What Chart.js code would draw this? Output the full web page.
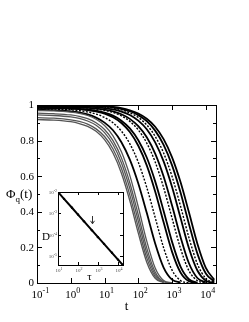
<!DOCTYPE html>
<html><head><meta charset="utf-8">
<script src="https://cdn.jsdelivr.net/npm/chart.js@4/dist/chart.umd.min.js"></script>
<style>
html,body{margin:0;padding:0;background:#fff;}
#wrap{position:relative;width:249px;height:322px;overflow:hidden;}
canvas{position:absolute;}
#main{left:0;top:0;}
#inset{left:38px;top:186px;}
</style>
</head><body>
<div id="wrap"><canvas id="main" width="249" height="322"></canvas><canvas id="inset" width="92" height="96"></canvas></div>
<script>
// ---------- data ----------
const times = [0.1, 0.316, 1, 1.78, 3.16, 5.62, 10, 17.8, 31.6, 56.2, 100, 178, 316, 562, 1000, 1780, 3160, 5620, 10000, 17800];

// fast (large q) curves, lower plateau
const phiC1 = [0.918,0.915,0.906,0.896,0.880,0.852,0.805,0.730,0.617,0.462,0.280,0.117,0.026,0.002,null,null,null,null,null,null];
const phiC2 = [0.929,0.926,0.917,0.908,0.893,0.866,0.823,0.753,0.645,0.494,0.312,0.141,0.036,0.003,null,null,null,null,null,null];
const phiC3 = [0.944,0.941,0.933,0.925,0.910,0.886,0.845,0.778,0.676,0.530,0.348,0.168,0.048,0.005,null,null,null,null,null,null];
const phiC4 = [0.954,0.951,0.944,0.936,0.923,0.900,0.862,0.800,0.703,0.562,0.382,0.196,0.062,0.008,0.000,null,null,null,null,null];
const phiC5 = [0.969,0.967,0.960,0.953,0.941,0.920,0.885,0.827,0.737,0.603,0.427,0.235,0.084,0.014,0.001,null,null,null,null,null];
// slower curves
const phiR1 = [0.973,0.971,0.964,0.958,0.947,0.929,0.901,0.858,0.791,0.693,0.559,0.394,0.222,0.087,0.019,0.002,null,null,null,null];
const phiR2 = [0.979,0.977,0.973,0.968,0.961,0.949,0.930,0.900,0.853,0.782,0.678,0.537,0.368,0.198,0.072,0.014,0.001,null,null,null];
const phiR3 = [0.984,0.983,0.980,0.977,0.972,0.964,0.952,0.931,0.899,0.848,0.771,0.661,0.514,0.341,0.175,0.059,0.010,0.001,null,null];
const phiR4 = [0.984,0.983,0.981,0.978,0.974,0.968,0.957,0.940,0.912,0.869,0.802,0.705,0.571,0.405,0.231,0.092,0.021,0.002,null,null];
const phiR5 = [0.990,0.989,0.987,0.985,0.983,0.978,0.970,0.958,0.939,0.908,0.860,0.786,0.680,0.536,0.364,0.194,0.069,0.013,0.001,null];
const phiR6 = [0.990,0.989,0.988,0.986,0.984,0.980,0.974,0.964,0.948,0.922,0.881,0.819,0.727,0.598,0.435,0.259,0.111,0.028,0.003,null];
const phiR7 = [0.995,0.994,0.993,0.992,0.990,0.988,0.983,0.975,0.963,0.944,0.912,0.864,0.790,0.683,0.539,0.366,0.195,0.070,0.013,0.001];
const phiR8 = [1.000,0.999,0.999,0.998,0.996,0.994,0.990,0.983,0.973,0.956,0.930,0.888,0.824,0.730,0.598,0.432,0.255,0.107,0.026,0.003];
const phiR9 = [1.000,1.000,0.999,0.998,0.997,0.995,0.992,0.987,0.978,0.965,0.943,0.909,0.856,0.776,0.661,0.509,0.332,0.165,0.053,0.008];
const phiR10= [1.000,1.000,0.999,0.998,0.997,0.996,0.993,0.989,0.982,0.970,0.952,0.923,0.878,0.808,0.706,0.567,0.397,0.221,0.085,0.018];

const fastSeries = [phiC1, phiC2, phiC3, phiC4, phiC5];
const slowSeries = [phiR1, phiR2, phiR3, phiR4, phiR5, phiR6, phiR7, phiR8, phiR9, phiR10];

// main axis ticks
const xTickValues = [0.1, 1, 10, 100, 1000, 10000];
const xTickExponents = ['-1', '0', '1', '2', '3', '4'];
const yTickValues = [0, 0.2, 0.4, 0.6, 0.8, 1];
const yTickLabels = ['0', '0.2', '0.4', '0.6', '0.8', '1'];
const yMinorValues = [0.1, 0.3, 0.5, 0.7, 0.9];

// inset: D versus tau
const insetTau = [10, 20, 50, 100, 200, 500, 1000, 2000, 5000, 10000, 17000];
const insetD = [1.0e-2, 4.8e-3, 1.85e-3, 8.9e-4, 4.3e-4, 1.64e-4, 7.9e-5, 3.84e-5, 1.47e-5, 7.1e-6, 4.1e-6];
const insetXTicks = [10, 100, 1000, 10000];
const insetXExp = ['1', '2', '3', '4'];
const insetYTicks = [1e-2, 1e-3, 1e-4, 1e-5];
const insetYExp = ['-2', '-3', '-4', '-5'];
const arrowTau = 525, arrowFromD = 7.6e-4, arrowToD = 3.3e-4;

// ---------- helpers ----------
const SERIF = '"Liberation Serif","DejaVu Serif",serif';
function pow10(ctx, x, y, exp, bs, ss, up) {
  ctx.font = bs + 'px ' + SERIF;
  const w = ctx.measureText('10').width;
  ctx.textAlign = 'center'; ctx.textBaseline = 'alphabetic';
  ctx.fillText('10', x, y);
  ctx.font = ss + 'px ' + SERIF;
  ctx.textAlign = 'left';
  ctx.fillText(exp, x + w / 2, y - up);
}
function pow10Right(ctx, xr, y, exp, bs, ss, up) {
  ctx.font = ss + 'px ' + SERIF;
  const we = ctx.measureText(exp).width;
  ctx.textAlign = 'right'; ctx.textBaseline = 'alphabetic';
  ctx.fillText(exp, xr, y - up);
  ctx.font = bs + 'px ' + SERIF;
  ctx.fillText('10', xr - we, y);
}
function pts(vals, xs) { return xs.map((t, i) => ({x: t, y: vals[i]})); }

// ---------- main chart ----------
const datasets = [];
fastSeries.forEach((s) => datasets.push({
  data: pts(s, times), borderColor: '#555', borderWidth: 1.3, pointRadius: 0,
  cubicInterpolationMode: 'monotone', spanGaps: false
}));
slowSeries.forEach((s, i) => datasets.push({
  data: pts(s, times), borderColor: '#000', borderWidth: (i % 3 === 1) ? 1.4 : 1.8, pointRadius: 0,
  borderDash: (i % 3 === 1) ? [2, 1.5] : [],
  cubicInterpolationMode: 'monotone', spanGaps: false
}));

const mainAxes = {
  id: 'mainAxes',
  afterDraw(chart) {
    const ctx = chart.ctx, a = chart.chartArea, xs = chart.scales.x, ys = chart.scales.y;
    ctx.save();
    ctx.strokeStyle = '#000'; ctx.lineWidth = 1;
    ctx.strokeRect(Math.round(a.left) + 0.5, Math.round(a.top) + 0.5, Math.round(a.right - a.left), Math.round(a.bottom - a.top));
    ctx.beginPath();
    xTickValues.forEach(v => {
      const px = Math.round(xs.getPixelForValue(v)) + 0.5;
      ctx.moveTo(px, a.bottom); ctx.lineTo(px, a.bottom - 5);
      ctx.moveTo(px, a.top); ctx.lineTo(px, a.top + 5);
    });
    yTickValues.forEach(v => {
      const py = Math.round(ys.getPixelForValue(v)) + 0.5;
      ctx.moveTo(a.left, py); ctx.lineTo(a.left + 5, py);
      ctx.moveTo(a.right, py); ctx.lineTo(a.right - 5, py);
    });
    yMinorValues.forEach(v => {
      const py = Math.round(ys.getPixelForValue(v)) + 0.5;
      ctx.moveTo(a.left, py); ctx.lineTo(a.left + 3, py);
      ctx.moveTo(a.right, py); ctx.lineTo(a.right - 3, py);
    });
    ctx.stroke();
    ctx.fillStyle = '#000';
    // y tick labels
    ctx.font = '11px ' + SERIF; ctx.textAlign = 'right'; ctx.textBaseline = 'middle';
    yTickValues.forEach((v, i) => ctx.fillText(yTickLabels[i], a.left - 3, ys.getPixelForValue(v) + 0.5));
    // x tick labels
    xTickValues.forEach((v, i) => pow10(ctx, xs.getPixelForValue(v), a.bottom + 15, xTickExponents[i], 11, 8, 5));
    // axis titles
    ctx.textBaseline = 'alphabetic'; ctx.textAlign = 'center';
    ctx.font = '13px ' + SERIF;
    ctx.fillText('t', (a.left + a.right) / 2, a.bottom + 27);
    ctx.textAlign = 'left';
    ctx.font = '13px ' + SERIF;
    ctx.fillText('\u03A6', 6, 198);
    const wPhi = ctx.measureText('\u03A6').width;
    ctx.font = '9px ' + SERIF;
    ctx.fillText('q', 6 + wPhi, 202);
    const wq = ctx.measureText('q').width;
    ctx.font = '13px ' + SERIF;
    ctx.fillText('(t)', 6 + wPhi + wq, 198);
    ctx.restore();
  }
};

new Chart(document.getElementById('main'), {
  type: 'line',
  data: { datasets },
  options: {
    responsive: false, animation: false, devicePixelRatio: 1,
    layout: { padding: { left: 37, right: 33, top: 105, bottom: 39 } },
    scales: {
      x: { type: 'logarithmic', min: 0.1, max: 20000, display: false },
      y: { type: 'linear', min: 0, max: 1, display: false }
    },
    plugins: { legend: { display: false }, tooltip: { enabled: false } },
    elements: { point: { radius: 0 }, line: { tension: 0.4 } }
  },
  plugins: [mainAxes]
});

// ---------- inset chart ----------
const insetAxes = {
  id: 'insetAxes',
  afterDraw(chart) {
    const ctx = chart.ctx, a = chart.chartArea, xs = chart.scales.x, ys = chart.scales.y;
    ctx.save();
    ctx.strokeStyle = '#000'; ctx.lineWidth = 1;
    ctx.strokeRect(Math.round(a.left) + 0.5, Math.round(a.top) + 0.5, Math.round(a.right - a.left), Math.round(a.bottom - a.top));
    ctx.beginPath();
    insetXTicks.forEach(v => {
      const px = Math.round(xs.getPixelForValue(v)) + 0.5;
      ctx.moveTo(px, a.bottom); ctx.lineTo(px, a.bottom - 3);
      ctx.moveTo(px, a.top); ctx.lineTo(px, a.top + 3);
    });
    insetYTicks.forEach(v => {
      const py = Math.round(ys.getPixelForValue(v)) + 0.5;
      ctx.moveTo(a.left, py); ctx.lineTo(a.left + 3, py);
      ctx.moveTo(a.right, py); ctx.lineTo(a.right - 3, py);
    });
    ctx.stroke();
    // arrow
    const ax = Math.round(xs.getPixelForValue(arrowTau)) + 0.5;
    const ay0 = ys.getPixelForValue(arrowFromD), ay1 = ys.getPixelForValue(arrowToD);
    ctx.strokeStyle = '#333';
    ctx.beginPath();
    ctx.moveTo(ax, ay0); ctx.lineTo(ax, ay1);
    ctx.moveTo(ax - 2, ay1 - 3); ctx.lineTo(ax, ay1); ctx.lineTo(ax + 2, ay1 - 3);
    ctx.stroke();
    ctx.fillStyle = '#444';
    insetXTicks.forEach((v, i) => pow10(ctx, xs.getPixelForValue(v), a.bottom + 7, insetXExp[i], 5, 4, 2));
    insetYTicks.forEach((v, i) => pow10Right(ctx, a.left - 1, ys.getPixelForValue(v) + 2, insetYExp[i], 5, 4, 2));
    ctx.fillStyle = '#000';
    ctx.font = '11px ' + SERIF; ctx.textAlign = 'center'; ctx.textBaseline = 'alphabetic';
    ctx.fillText('D', 8, 54);
    ctx.fillText('\u03C4', (a.left + a.right) / 2 - 1, a.bottom + 15);
    ctx.restore();
  }
};

new Chart(document.getElementById('inset'), {
  type: 'line',
  data: { datasets: [{
    data: pts(insetD, insetTau), borderColor: '#000', borderWidth: 2,
    pointRadius: 1.2, pointBackgroundColor: '#000', pointBorderWidth: 0, tension: 0
  }] },
  options: {
    responsive: false, animation: false, devicePixelRatio: 1,
    layout: { padding: { left: 20, right: 7, top: 6, bottom: 17 } },
    scales: {
      x: { type: 'logarithmic', min: 10, max: 17783, display: false },
      y: { type: 'logarithmic', min: 3.98e-6, max: 1e-2, display: false }
    },
    plugins: { legend: { display: false }, tooltip: { enabled: false } }
  },
  plugins: [insetAxes]
});
</script>
</body></html>
